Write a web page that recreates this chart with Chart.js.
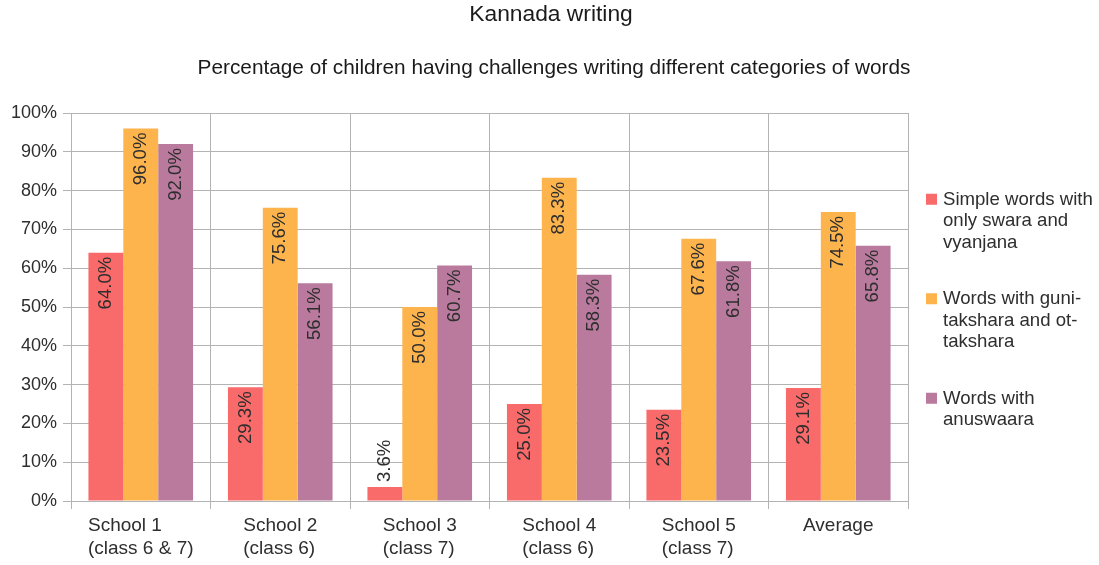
<!DOCTYPE html>
<html>
<head>
<meta charset="utf-8">
<script src="https://cdn.jsdelivr.net/npm/chart.js@4/dist/chart.umd.min.js"></script>
<style>
  html, body { margin: 0; padding: 0; background: #ffffff; }
  #wrap { width: 1099px; height: 565px; position: relative; }
</style>
</head>
<body>
<div id="wrap"><canvas id="c"></canvas></div>
<script>
const chartTitle = 'Kannada writing';
const chartSubtitle = 'Percentage of children having challenges writing different categories of words';
const categories = [
  ['School 1', '(class 6 & 7)'],
  ['School 2', '(class 6)'],
  ['School 3', '(class 7)'],
  ['School 4', '(class 6)'],
  ['School 5', '(class 7)'],
  ['Average']
];
const seriesNames = [
  ['Simple words with', 'only swara and', 'vyanjana'],
  ['Words with guni-', 'takshara and ot-', 'takshara'],
  ['Words with', 'anuswaara']
];
const simpleWords = [64.0, 29.3, 3.6, 25.0, 23.5, 29.1];
const gunitakshara = [96.0, 75.6, 50.0, 83.3, 67.6, 74.5];
const anuswaara = [92.0, 56.1, 60.7, 58.3, 61.8, 65.8];
const yTicks = [0, 10, 20, 30, 40, 50, 60, 70, 80, 90, 100];

const colors = ['#f96a6a', '#fdb44c', '#b97a9d'];
const FONT = '"Liberation Sans", Arial, sans-serif';
const TEXT = '#2e2e2e';
const GRID = '#b3b3b3';

const titles = {
  id: 'titles',
  afterDraw(chart) {
    const ctx = chart.ctx;
    ctx.save();
    ctx.fillStyle = '#1a1a1a';
    ctx.textAlign = 'center';
    ctx.textBaseline = 'middle';
    ctx.font = '22.8px ' + FONT;
    ctx.fillText(chartTitle, 551, 15);
    ctx.font = '20.8px ' + FONT;
    ctx.fillText(chartSubtitle, 554, 68);
    ctx.restore();
  }
};

const dataLabels = {
  id: 'dataLabels',
  afterDatasetsDraw(chart) {
    const ctx = chart.ctx;
    ctx.save();
    ctx.font = '18.6px ' + FONT;
    ctx.fillStyle = TEXT;
    ctx.textBaseline = 'middle';
    chart.data.datasets.forEach((ds, di) => {
      const meta = chart.getDatasetMeta(di);
      meta.data.forEach((bar, i) => {
        const txt = ds.data[i].toFixed(1) + '%';
        const w = ctx.measureText(txt).width;
        const h = bar.base - bar.y;
        ctx.save();
        if (h >= w + 8) {
          ctx.translate(bar.x, bar.y + 4);
          ctx.rotate(-Math.PI / 2);
          ctx.textAlign = 'right';
        } else {
          ctx.translate(bar.x, bar.y - 5);
          ctx.rotate(-Math.PI / 2);
          ctx.textAlign = 'left';
        }
        ctx.fillText(txt, 0, 0);
        ctx.restore();
      });
    });
    ctx.restore();
  }
};

const xLabels = {
  id: 'xLabels',
  afterDraw(chart) {
    const ctx = chart.ctx;
    const xs = chart.scales.x;
    const bottom = chart.chartArea.bottom;
    ctx.save();
    ctx.font = '19px ' + FONT;
    ctx.fillStyle = TEXT;
    ctx.textBaseline = 'middle';
    ctx.textAlign = 'left';
    categories.forEach((lines, i) => {
      const cx = xs.getPixelForValue(i);
      const maxW = Math.max(...lines.map(l => ctx.measureText(l).width));
      const x0 = cx - maxW / 2;
      lines.forEach((l, j) => ctx.fillText(l, x0, bottom + 25 + j * 23));
    });
    ctx.restore();
  }
};

const legendPlugin = {
  id: 'customLegend',
  afterDraw(chart) {
    const ctx = chart.ctx;
    const ca = chart.chartArea;
    const lh = 21.5, gap = 35;
    let total = 0;
    seriesNames.forEach((n, i) => { total += n.length * lh + (i ? gap : 0); });
    let y = (ca.top + ca.bottom) / 2 - total / 2 + 3;
    const x = ca.right + 18;
    ctx.save();
    ctx.font = '18.6px ' + FONT;
    ctx.textBaseline = 'middle';
    ctx.textAlign = 'left';
    seriesNames.forEach((lines, i) => {
      ctx.fillStyle = colors[i];
      ctx.fillRect(x, y + lh / 2 - 6, 11, 11);
      ctx.fillStyle = TEXT;
      lines.forEach((l, j) => ctx.fillText(l, x + 17, y + lh / 2 + j * lh));
      y += lines.length * lh + gap;
    });
    ctx.restore();
  }
};

new Chart(document.getElementById('c'), {
  type: 'bar',
  data: {
    labels: categories,
    datasets: [
      { label: seriesNames[0].join(' '), data: simpleWords, backgroundColor: colors[0] },
      { label: seriesNames[1].join(' '), data: gunitakshara, backgroundColor: colors[1] },
      { label: seriesNames[2].join(' '), data: anuswaara, backgroundColor: colors[2] }
    ]
  },
  options: {
    responsive: true,
    maintainAspectRatio: false,
    animation: false,
    layout: { padding: { left: 0, right: 191, top: 113, bottom: 0 } },
    datasets: { bar: { categoryPercentage: 0.75, barPercentage: 1.0 } },
    plugins: {
      legend: { display: false },
      tooltip: { enabled: false },
      title: { display: false },
      subtitle: { display: false }
    },
    scales: {
      x: {
        grid: { color: GRID, tickLength: 8, offset: true },
        border: { color: GRID },
        ticks: { color: 'rgba(0,0,0,0)', font: { family: FONT, size: 18 } },
        afterFit(s) { s.height = 64; }
      },
      y: {
        min: 0,
        max: 100,
        afterBuildTicks(s) { s.ticks = yTicks.map(v => ({ value: v })); },
        grid: { color: GRID, tickLength: 8 },
        border: { color: GRID },
        ticks: {
          color: TEXT,
          padding: 6,
          font: { family: FONT, size: 18 },
          callback: v => v + '%'
        },
        afterFit(s) { s.width = 71; }
      }
    }
  },
  plugins: [titles, dataLabels, xLabels, legendPlugin]
});
</script>
</body>
</html>
